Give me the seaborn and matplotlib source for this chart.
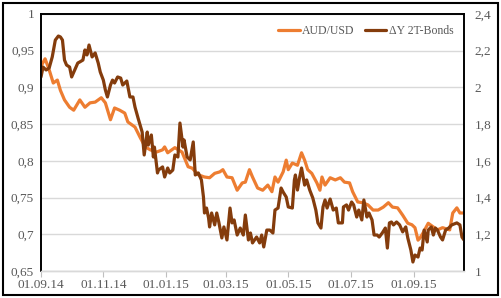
import matplotlib
matplotlib.use("Agg")
import matplotlib.pyplot as plt
import matplotlib.dates as mdates
from matplotlib.ticker import FuncFormatter, FixedLocator
from matplotlib.patches import Rectangle
import seaborn as sns
import pandas as pd
import numpy as np

sns.set_theme(style="white")
plt.rcParams['font.family'] = ['Liberation Serif', 'DejaVu Serif']

start_date = "2014-09-01"

aud_days = [0, 4, 8, 12, 16, 19, 23, 28, 32, 38, 43, 48, 53, 56, 59, 63, 68, 72, 77, 82,
            85, 92, 97, 102, 107, 113, 119, 121, 124, 131, 138, 144, 148, 154, 160, 165, 170,
            175, 178, 182, 187, 192, 197, 200, 204, 207, 212, 217, 222, 226, 229, 232, 237,
            240, 242, 246, 251, 255, 258, 261, 265, 270, 273, 275, 278, 283, 288, 293, 297,
            302, 305, 310, 315, 320, 325, 330, 335, 340, 344, 349, 354, 359, 363, 366, 369,
            371, 374, 379, 384, 388, 393, 400, 403, 407, 410, 414]
aud_usd = [0.929, 0.939, 0.924, 0.906, 0.910, 0.896, 0.883, 0.873, 0.869, 0.883, 0.873,
           0.879, 0.880, 0.883, 0.886, 0.879, 0.856, 0.872, 0.869, 0.865, 0.853, 0.846,
           0.832, 0.819, 0.815, 0.812, 0.815, 0.819, 0.811, 0.818, 0.812, 0.792, 0.790,
           0.781, 0.778, 0.777, 0.783, 0.785, 0.788, 0.778, 0.777, 0.760, 0.770, 0.771,
           0.788, 0.778, 0.763, 0.760, 0.767, 0.758, 0.778, 0.771, 0.785, 0.801, 0.788,
           0.797, 0.794, 0.811, 0.801, 0.788, 0.783, 0.770, 0.760, 0.778, 0.767, 0.777,
           0.774, 0.777, 0.771, 0.770, 0.758, 0.744, 0.743, 0.740, 0.733, 0.733, 0.737,
           0.743, 0.737, 0.736, 0.726, 0.715, 0.713, 0.709, 0.692, 0.695, 0.702, 0.715,
           0.710, 0.706, 0.709, 0.706, 0.729, 0.736, 0.729, 0.729]

bond_days = [0, 2, 5, 8, 11, 14, 17, 19, 21, 23, 25, 28, 30, 33, 36, 38, 41, 43, 45, 47,
             50, 53, 56, 58, 61, 63, 65, 68, 70, 72, 75, 78, 80, 84, 87, 90, 92, 95, 99,
             101, 104, 105, 108, 110, 111, 114, 115, 119, 121, 124, 126, 129, 131, 134,
             136, 139, 140, 143, 146, 149, 151, 154, 157, 159, 160, 162, 164, 165, 167,
             170, 172, 174, 177, 179, 182, 185, 187, 189, 192, 195, 198, 200, 203, 205,
             207, 211, 214, 216, 218, 221, 224, 227, 229, 232, 235, 237, 240, 242, 246,
             248, 249, 251, 253, 255, 258, 260, 263, 266, 269, 271, 274, 276, 278, 280,
             283, 286, 289, 291, 295, 296, 299, 301, 304, 306, 309, 311, 314, 316, 319,
             321, 324, 326, 329, 331, 334, 337, 339, 341, 343, 345, 348, 351, 354, 357,
             359, 362, 364, 366, 369, 371, 373, 375, 378, 379, 382, 384, 386, 388, 391,
             393, 396, 399, 402, 407, 410, 412, 414]
bond_yield = [2.057, 2.111, 2.095, 2.106, 2.166, 2.258, 2.280, 2.275, 2.258, 2.149, 2.122,
              2.111, 2.057, 2.095, 2.133, 2.139, 2.149, 2.204, 2.177, 2.231, 2.166, 2.188,
              2.133, 2.084, 2.040, 1.986, 1.948, 2.013, 2.040, 2.024, 2.057, 2.051, 2.013,
              2.035, 1.948, 1.948, 1.893, 1.833, 1.757, 1.632, 1.757, 1.686, 1.741, 1.621,
              1.675, 1.534, 1.550, 1.567, 1.512, 1.561, 1.534, 1.550, 1.632, 1.621, 1.806,
              1.675, 1.714, 1.621, 1.605, 1.703, 1.523, 1.534, 1.496, 1.403, 1.316, 1.343,
              1.289, 1.240, 1.316, 1.251, 1.316, 1.267, 1.180, 1.240, 1.169, 1.343, 1.262,
              1.278, 1.196, 1.234, 1.196, 1.305, 1.169, 1.207, 1.153, 1.185, 1.153, 1.196,
              1.131, 1.223, 1.223, 1.207, 1.332, 1.343, 1.452, 1.430, 1.403, 1.349, 1.343,
              1.496, 1.523, 1.441, 1.507, 1.561, 1.468, 1.496, 1.441, 1.398, 1.332, 1.262,
              1.234, 1.349, 1.387, 1.343, 1.392, 1.332, 1.343, 1.262, 1.262, 1.349, 1.360,
              1.332, 1.376, 1.360, 1.294, 1.332, 1.278, 1.387, 1.294, 1.316, 1.278, 1.196,
              1.196, 1.185, 1.207, 1.234, 1.125, 1.262, 1.267, 1.251, 1.267, 1.251, 1.213,
              1.240, 1.180, 1.114, 1.049, 1.087, 1.076, 1.125, 1.114, 1.223, 1.158, 1.223,
              1.240, 1.196, 1.234, 1.223, 1.185, 1.169, 1.223, 1.234, 1.251, 1.262, 1.251,
              1.185, 1.169]

x_tick_labels = ["01.09.14", "01.11.14", "01.01.15", "01.03.15", "01.05.15", "01.07.15", "01.09.15"]
left_ticks = [0.65, 0.7, 0.75, 0.8, 0.85, 0.9, 0.95, 1.0]
right_ticks = [1.0, 1.2, 1.4, 1.6, 1.8, 2.0, 2.2, 2.4]

base = pd.Timestamp(start_date)
df_aud = pd.DataFrame({"date": base + pd.to_timedelta(aud_days, unit="D"), "AUD/USD": aud_usd})
df_bond = pd.DataFrame({"date": base + pd.to_timedelta(bond_days, unit="D"), "ΔY 2T-Bonds": bond_yield})

ORANGE = "#ED7D31"
BROWN = "#843C0C"
TXT = "#595959"
FS = 9.5

fig = plt.figure(figsize=(5.01, 2.98), dpi=100)
ax = fig.add_axes([41/501, 1-271/298, (464-41)/501, (271-14)/298])
ax2 = ax.twinx()

sns.lineplot(data=df_aud, x="date", y="AUD/USD", ax=ax, color=ORANGE, linewidth=2.3, label="AUD/USD", legend=False)
sns.lineplot(data=df_bond, x="date", y="ΔY 2T-Bonds", ax=ax2, color=BROWN, linewidth=2.3, label="ΔY 2T-Bonds", legend=False)

x_dates = pd.to_datetime(x_tick_labels, format="%d.%m.%y")
ax.set_xlim(base, base + pd.Timedelta(days=414))
ax.xaxis.set_major_locator(FixedLocator(mdates.date2num(x_dates)))
ax.set_xticklabels(x_tick_labels)

ax.set_ylim(0.65, 1.0)
ax2.set_ylim(1.0, 2.4)
ax.set_yticks(left_ticks)
ax2.set_yticks(right_ticks)

def fmt(v, pos):
    s = ("%.2f" % v).rstrip("0").rstrip(".")
    return s.replace(".", ",")

ax.yaxis.set_major_formatter(FuncFormatter(fmt))
ax2.yaxis.set_major_formatter(FuncFormatter(fmt))

ax.grid(axis="y", color="#d9d9d9", linewidth=1.0)
ax.grid(axis="x", visible=False)
ax.set_axisbelow(True)
for a in (ax, ax2):
    a.set_xlabel("")
    a.set_ylabel("")
    for s in ("left", "right", "top"):
        a.spines[s].set_color("black")
        a.spines[s].set_linewidth(1.2)
    a.spines["bottom"].set_color("#d9d9d9")
    a.spines["bottom"].set_linewidth(1.0)

ax.tick_params(axis="x", which="major", bottom=True, length=4, width=0.8, color="#bfbfbf",
               labelsize=FS, labelcolor=TXT, pad=2)
ax.tick_params(axis="y", left=False, length=0, labelsize=FS, labelcolor=TXT, pad=5)
ax2.tick_params(axis="y", right=False, length=0, labelsize=FS, labelcolor=TXT, pad=7.5)

handles = ax.get_lines()[:1] + ax2.get_lines()[:1]
fig.legend(handles, ["AUD/USD", "ΔY 2T-Bonds"], loc="center left", bbox_to_anchor=(276/501, 1-31/298),
           ncol=2, frameon=False, fontsize=8.5, handlelength=1.8, handletextpad=0.2, columnspacing=0.9,
           labelcolor=TXT, borderpad=0.2, borderaxespad=0)

fig.patches.append(Rectangle((3/501, 3/298), 495/501, 292/298, transform=fig.transFigure,
                             fill=False, edgecolor="black", linewidth=1.5))

fig.savefig("out.png", dpi=100)
